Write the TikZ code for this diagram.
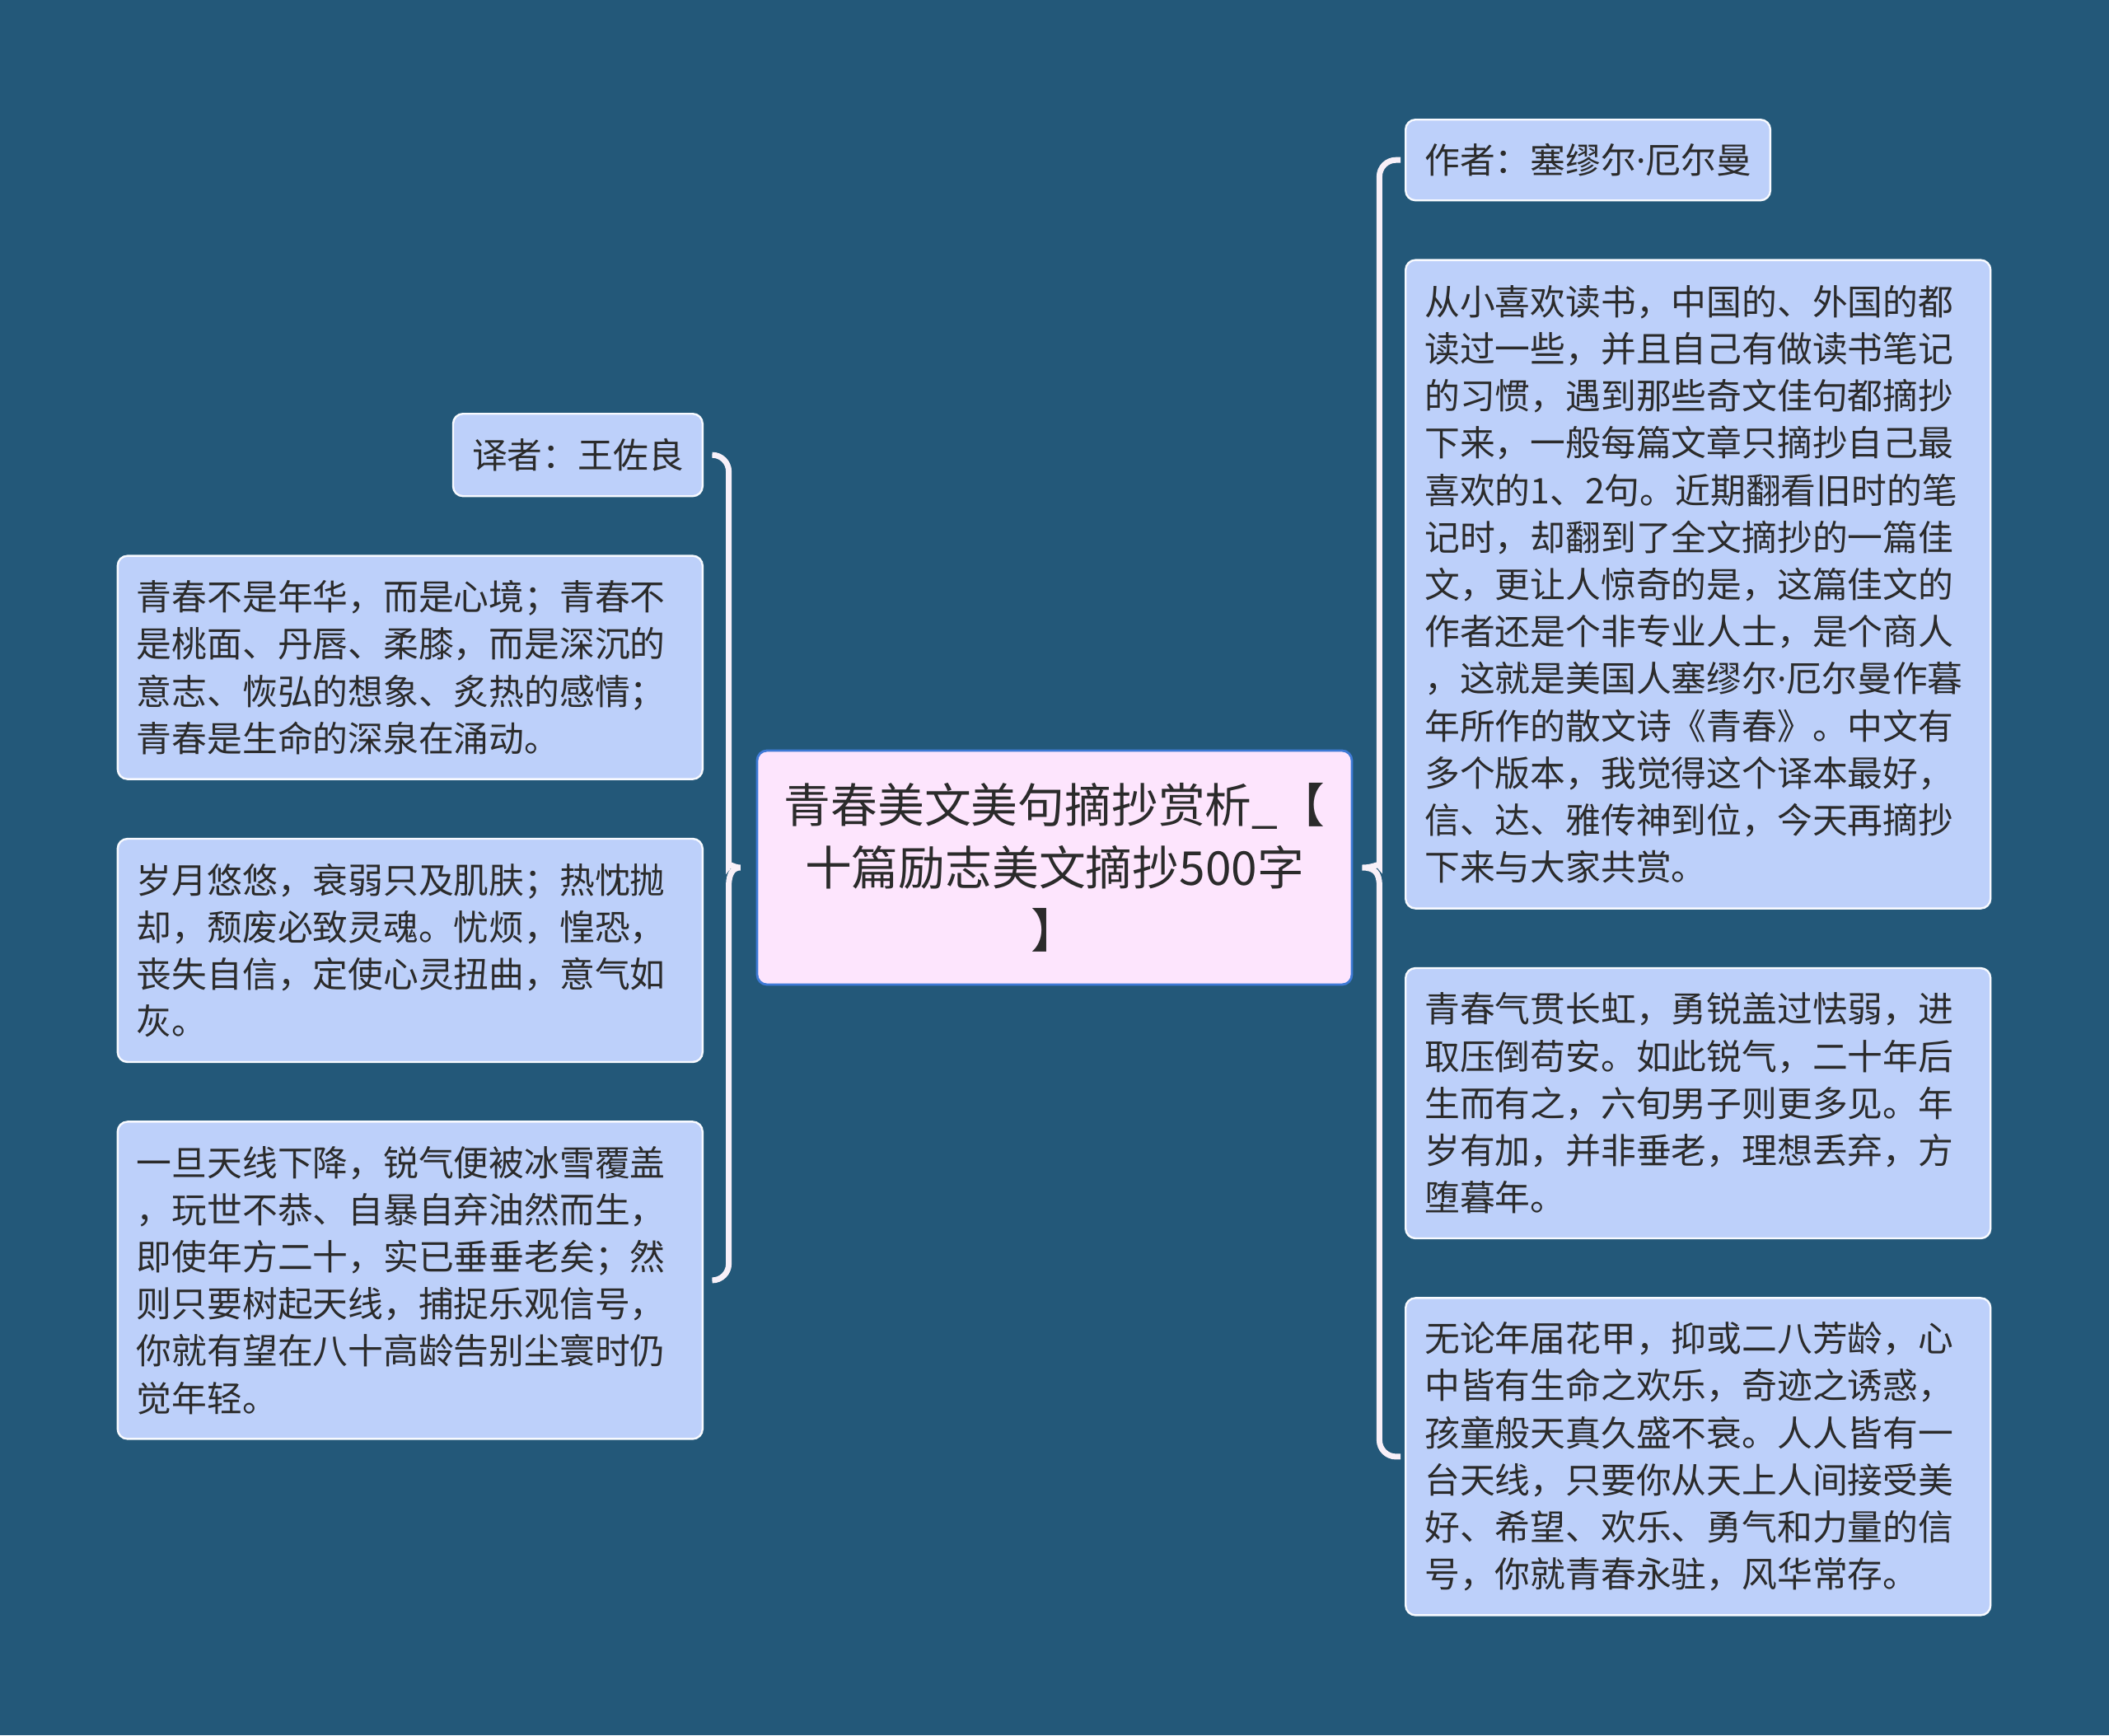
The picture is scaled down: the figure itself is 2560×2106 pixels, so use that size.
\documentclass[tikz,border=0pt]{standalone}
\usepackage{fontspec}
\newfontfamily\cjk{Noto Sans CJK SC}
\newfontfamily\latin{Noto Sans}
\definecolor{bgblue}{RGB}{35,88,121}
\definecolor{leafblue}{RGB}{189,208,250}
\definecolor{rootpink}{RGB}{253,229,253}
\definecolor{rootline}{RGB}{62,122,214}
\definecolor{inkgray}{RGB}{43,43,43}
\definecolor{bracewhite}{RGB}{248,240,248}
\usetikzlibrary{calc, positioning}

\begin{document}
\begin{tikzpicture}[
    x=0.5pt, y=-0.5pt,
    leaf/.style={fill=leafblue, draw=white!90!leafblue, line width=1.2pt,
      rounded corners=6pt, inner xsep=11.5pt, inner ysep=0pt, align=left,
      text=inkgray, font=\cjk\fontsize{21.4pt}{28.6pt}\selectfont},
    note/.style={leaf, text width=332pt},
    root/.style={fill=rootpink, draw=rootline, line width=1.4pt,
      rounded corners=6pt, text width=345pt, minimum width=361pt,
      minimum height=142pt, align=center, text=inkgray,
      font=\cjk\fontsize{28.4pt}{38pt}\selectfont},
    link/.style={draw=bracewhite, line width=3.5pt},
    node distance=35pt,
  ]
    \fill[bgblue] (0,0) rectangle (2560,2106);
    \useasboundingbox (0,0) rectangle (2560,2106);

    % centre
    \node[root] (ctr) at (1280,1053) {青春美文美句摘抄赏析\_【\\十篇励志美文摘抄500字\\】};

    % left side
    \node[leaf, anchor=north east, minimum height=50pt] (lt) at (854,501) {译者：王佐良};
    \node[note, below=of lt.south east, anchor=north east, minimum height=135.5pt] (l1) {青春不是年华，而是心境；青春不\\是桃面、丹唇、柔膝，而是深沉的\\意志、恢弘的想象、炙热的感情；\\青春是生命的深泉在涌动。};
    \node[note, below=of l1, minimum height=135.5pt] (l2) {岁月悠悠，衰弱只及肌肤；热忱抛\\却，颓废必致灵魂。忧烦，惶恐，\\丧失自信，定使心灵扭曲，意气如\\灰。};
    \node[note, below=of l2, minimum height=192.5pt] (l3) {一旦天线下降，锐气便被冰雪覆盖\\，玩世不恭、自暴自弃油然而生，\\即使年方二十，实已垂垂老矣；然\\则只要树起天线，捕捉乐观信号，\\你就有望在八十高龄告别尘寰时仍\\觉年轻。};

    % right side
    \node[leaf, anchor=north west, minimum height=49pt] (ra) at (1705,144) {作者：塞缪尔{\latin ·}厄尔曼};
    \node[note, below=of ra.south west, anchor=north west, minimum height=393.5pt] (r1) {从小喜欢读书，中国的、外国的都\\读过一些，并且自己有做读书笔记\\的习惯，遇到那些奇文佳句都摘抄\\下来，一般每篇文章只摘抄自己最\\喜欢的1、2句。近期翻看旧时的笔\\记时，却翻到了全文摘抄的一篇佳\\文，更让人惊奇的是，这篇佳文的\\作者还是个非专业人士，是个商人\\，这就是美国人塞缪尔{\latin ·}厄尔曼作暮\\年所作的散文诗《青春》。中文有\\多个版本，我觉得这个译本最好，\\信、达、雅传神到位，今天再摘抄\\下来与大家共赏。};
    \node[note, below=of r1, minimum height=164pt] (r2) {青春气贯长虹，勇锐盖过怯弱，进\\取压倒苟安。如此锐气，二十年后\\生而有之，六旬男子则更多见。年\\岁有加，并非垂老，理想丢弃，方\\堕暮年。};
    \node[note, below=of r2, minimum height=192.5pt] (r3) {无论年届花甲，抑或二八芳龄，心\\中皆有生命之欢乐，奇迹之诱惑，\\孩童般天真久盛不衰。人人皆有一\\台天线，只要你从天上人间接受美\\好、希望、欢乐、勇气和力量的信\\号，你就青春永驻，风华常存。};

    % braces
    \draw[link] ($(lt.east)+(11,0)$) [rounded corners=10pt] -| ($(ctr.west)+(-33,-22)$) [sharp corners]
      .. controls ($(ctr.west)+(-33,-6)$) and ($(ctr.west)+(-27,0)$) .. ($(ctr.west)+(-19,0)$)
      .. controls ($(ctr.west)+(-27,0)$) and ($(ctr.west)+(-33,6)$) .. ($(ctr.west)+(-33,22)$)
      [rounded corners=10pt] |- ($(l3.east)+(11,0)$);
    \draw[link] ($(ra.west)+(-5,0)$) [rounded corners=10pt] -| ($(ctr.east)+(32,-22)$) [sharp corners]
      .. controls ($(ctr.east)+(32,-6)$) and ($(ctr.east)+(26,0)$) .. ($(ctr.east)+(11,0)$)
      .. controls ($(ctr.east)+(26,0)$) and ($(ctr.east)+(32,6)$) .. ($(ctr.east)+(32,22)$)
      [rounded corners=10pt] |- ($(r3.west)+(-5,0)$);
\end{tikzpicture}
\end{document}
